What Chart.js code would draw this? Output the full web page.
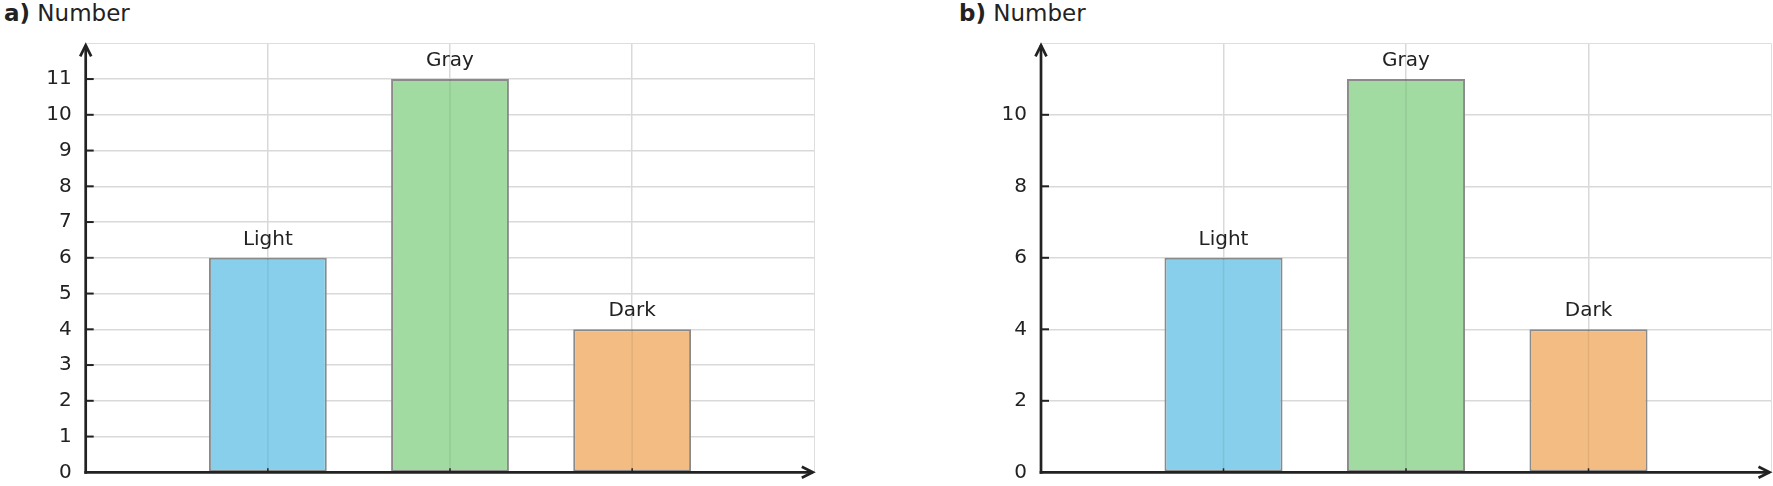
<!DOCTYPE html>
<html>
<head>
<meta charset="utf-8">
<script src="https://cdn.jsdelivr.net/npm/chart.js@4"></script>
<style>
  html, body { margin: 0; padding: 0; background: #fff; }
  body { width: 1773px; height: 486px; position: relative; overflow: hidden; font-family: "DejaVu Sans", sans-serif; }
  .title { position: absolute; top: 2px; font-size: 23px; line-height: 22px; color: #222; white-space: nowrap; }
  .wrap { position: absolute; top: 0; }
</style>
</head>
<body>
<div class="title" style="left:4px"><b>a)</b> Number</div>
<div class="title" style="left:959px"><b>b)</b> Number</div>
<div class="wrap" style="left:0px"><canvas id="chartA" width="830" height="486"></canvas></div>
<div class="wrap" style="left:955px"><canvas id="chartB" width="818" height="486"></canvas></div>
<script>
// ---- data ----
const categories = ['Light', 'Gray', 'Dark'];
const valuesA = [6, 11, 4];
const valuesB = [6, 11, 4];
const yTicksA = [0, 1, 2, 3, 4, 5, 6, 7, 8, 9, 10, 11];
const yTicksB = [0, 2, 4, 6, 8, 10];
const yMax = 12;
const xMax = 4;

// ---- styles ----
const barFill = ['#87CFEA', '#A1DBA1', '#F3BC82'];
const barStroke = '#8a8a8a';
const gridColor = '#d9d9d9';
const borderColor = '#dedede';
const inkColor = '#222222';

const overlayPlugin = {
  id: 'overlay',
  afterDatasetsDraw(chart) {
    const ctx = chart.ctx;
    const ys = chart.scales.y;
    const area = chart.chartArea;
    const meta = chart.getDatasetMeta(0);
    ctx.save();
    // faint grid line over each bar
    meta.data.forEach(bar => {
      ctx.strokeStyle = 'rgba(0,0,0,0.07)';
      ctx.lineWidth = 1.5;
      ctx.beginPath();
      ctx.moveTo(bar.x, bar.base);
      ctx.lineTo(bar.x, bar.y);
      ctx.stroke();
    });
    // bar labels
    ctx.fillStyle = inkColor;
    ctx.font = '20px "DejaVu Sans"';
    ctx.textAlign = 'center';
    ctx.textBaseline = 'alphabetic';
    meta.data.forEach((bar, i) => {
      ctx.fillText(categories[i], bar.x, bar.y - 13);
    });
    // axes
    const left = area.left, bottom = area.bottom;
    ctx.strokeStyle = inkColor;
    ctx.lineWidth = 2.7;
    ctx.lineCap = 'butt';
    const topTip = area.top + 2;
    ctx.beginPath();
    ctx.moveTo(left, bottom + 1.35);
    ctx.lineTo(left, topTip);
    ctx.stroke();
    ctx.beginPath();
    ctx.moveTo(left - 5.5, topTip + 11);
    ctx.lineTo(left, topTip);
    ctx.lineTo(left + 5.5, topTip + 11);
    ctx.stroke();
    const rightTip = area.right - 1.5;
    ctx.beginPath();
    ctx.moveTo(left - 1.35, bottom);
    ctx.lineTo(rightTip, bottom);
    ctx.stroke();
    ctx.beginPath();
    ctx.moveTo(rightTip - 11, bottom - 5.5);
    ctx.lineTo(rightTip, bottom);
    ctx.lineTo(rightTip - 11, bottom + 5.5);
    ctx.stroke();
    // y tick marks
    ctx.lineWidth = 2;
    ys.ticks.forEach(t => {
      if (t.value >= yMax || t.value === 0) return;
      const y = ys.getPixelForValue(t.value);
      ctx.beginPath();
      ctx.moveTo(left, y);
      ctx.lineTo(left + 8, y);
      ctx.stroke();
    });
    // x tick marks
    ctx.lineWidth = 1.5;
    meta.data.forEach(bar => {
      ctx.beginPath();
      ctx.moveTo(bar.x, bottom);
      ctx.lineTo(bar.x, bottom - 4);
      ctx.stroke();
    });
    ctx.restore();
  }
};

function makeChart(id, values, yTicks, yAxisWidth, padRight) {
  const data = categories.map((c, i) => ({ x: i + 1, y: values[i] }));
  return new Chart(document.getElementById(id), {
    type: 'bar',
    data: {
      datasets: [{
        data: data,
        backgroundColor: barFill,
        borderColor: barStroke,
        borderWidth: 2,
        borderSkipped: false,
        categoryPercentage: 1,
        barPercentage: 0.647
      }]
    },
    options: {
      responsive: false,
      animation: false,
      events: [],
      layout: { padding: { left: 0, right: padRight, top: 43.3, bottom: 13.7 } },
      plugins: { legend: { display: false }, tooltip: { enabled: false }, title: { display: false } },
      scales: {
        x: {
          type: 'linear',
          min: 0,
          max: xMax,
          offset: false,
          afterBuildTicks(scale) {
            const t = [];
            for (let v = 0; v <= xMax; v++) t.push({ value: v });
            scale.ticks = t;
          },
          afterFit(scale) { scale.height = 0; scale.paddingLeft = 0; scale.paddingRight = 0; },
          ticks: { display: false },
          border: { display: false },
          grid: {
            offset: false,
            drawTicks: false,
            color: c => (c.tick && c.tick.value === 0) ? 'rgba(0,0,0,0)' : (c.tick && c.tick.value === xMax ? borderColor : gridColor),
            lineWidth: c => (c.tick && c.tick.value === xMax) ? 1 : 1.5
          }
        },
        y: {
          min: 0,
          max: yMax,
          afterBuildTicks(scale) {
            scale.ticks = yTicks.concat([yMax]).map(v => ({ value: v }));
          },
          afterFit(scale) { scale.width = yAxisWidth; scale.paddingTop = 0; scale.paddingBottom = 0; },
          ticks: {
            padding: 14,
            color: inkColor,
            font: { family: 'DejaVu Sans', size: 20 },
            callback: v => (v === yMax ? '' : String(v))
          },
          border: { display: false },
          grid: {
            drawTicks: false,
            color: c => (c.tick && c.tick.value === 0) ? 'rgba(0,0,0,0)' : (c.tick && c.tick.value === yMax ? borderColor : gridColor),
            lineWidth: c => (c.tick && c.tick.value === yMax) ? 1 : 1.5
          }
        }
      }
    },
    plugins: [overlayPlugin]
  });
}

makeChart('chartA', valuesA, yTicksA, 85.7, 15.7);
makeChart('chartB', valuesB, yTicksB, 86, 2);
</script>
</body>
</html>
